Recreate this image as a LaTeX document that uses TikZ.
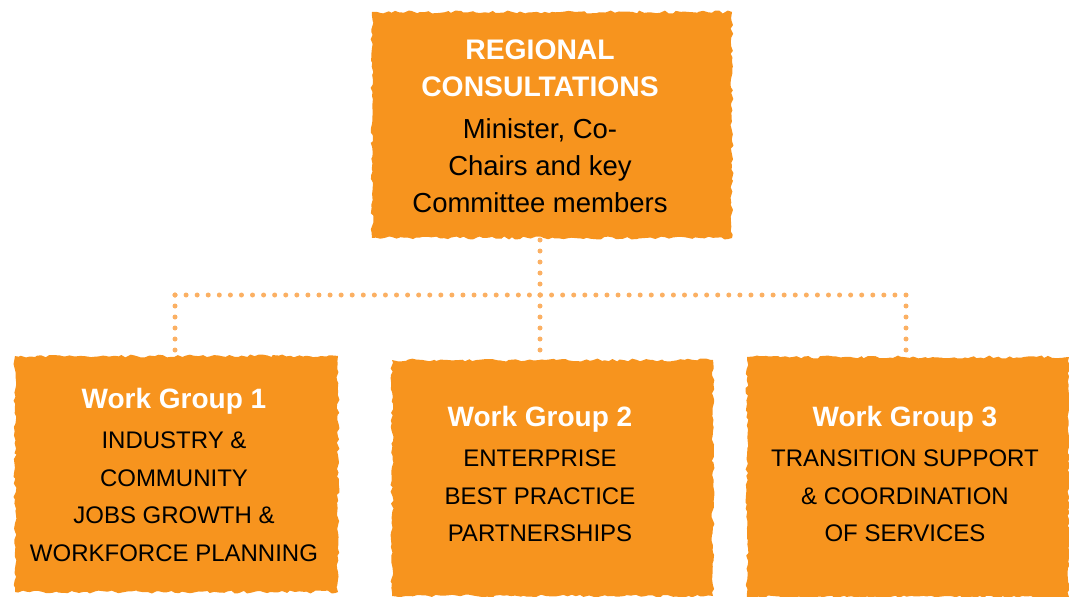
\documentclass[tikz,border=0pt]{standalone}
\usepackage{fontspec}
\setmainfont{Liberation Sans}
\usetikzlibrary{decorations.pathmorphing}
\definecolor{boxorange}{HTML}{F7941E}
\definecolor{dotorange}{HTML}{FBB063}
\begin{document}
\begin{tikzpicture}[x=1pt,y=-1pt,
  box/.style={fill=boxorange, inner sep=0pt, decorate,
    decoration={random steps, segment length=4pt, amplitude=1.5pt}},
  toptxt/.style={align=center, inner sep=0pt, font=\fontsize{27.5}{37}\selectfont},
  wgtxt/.style={align=center, inner sep=0pt, font=\fontsize{24}{37.5}\selectfont},
  dots/.style={draw=dotorange, line width=5pt, line cap=round, dash pattern=on 0pt off 11pt}]
\pgfmathsetseed{7}
\useasboundingbox (0,0) rectangle (1069,597);
% boxes
\node[box, minimum width=360pt, minimum height=226pt] (rc) at (552,125) {};
\node[box, minimum width=323pt, minimum height=236pt] (w1) at (176.5,474) {};
\node[box, minimum width=321pt, minimum height=236pt] (w2) at (552.5,478) {};
\node[box, minimum width=322pt, minimum height=240pt] (w3) at (908,477) {};
% texts
\node[toptxt] (rct) at (540,126) {{\fontsize{28.3}{37}\selectfont\bfseries\color{white}REGIONAL}\\
  {\fontsize{28.3}{37}\selectfont\bfseries\color{white}CONSULTATIONS}\\[5pt]
  Minister, Co-\\ Chairs and key\\ Committee members};
\node[wgtxt] (t1) at (174,475) {{\fontsize{28}{37.5}\selectfont\bfseries\color{white}Work Group 1}\\[2.5pt]
  INDUSTRY \&\\ COMMUNITY\\ JOBS GROWTH \&\\ WORKFORCE PLANNING};
\node[wgtxt] (t2) at (540,474) {{\fontsize{28}{37.5}\selectfont\bfseries\color{white}Work Group 2}\\[2.5pt]
  ENTERPRISE\\ BEST PRACTICE\\ PARTNERSHIPS};
\node[wgtxt] (t3) at (905,474) {{\fontsize{28}{37.5}\selectfont\bfseries\color{white}Work Group 3}\\[2.5pt]
  TRANSITION SUPPORT\\ \& COORDINATION\\ OF SERVICES};
% connectors
\coordinate (j) at (540,295);
\coordinate (hl) at (175,295);
\coordinate (hr) at (906,295);
\draw[dots] (j) -- (rc.south -| j);
\draw[dots, dash pattern=on 0pt off 11.076pt] (hl) -- (hr);
\draw[dots] (hl) -- (hl |- w1.north);
\draw[dots] (j) -- (j |- w2.north);
\draw[dots] (hr) -- (hr |- w3.north);
\end{tikzpicture}
\end{document}
